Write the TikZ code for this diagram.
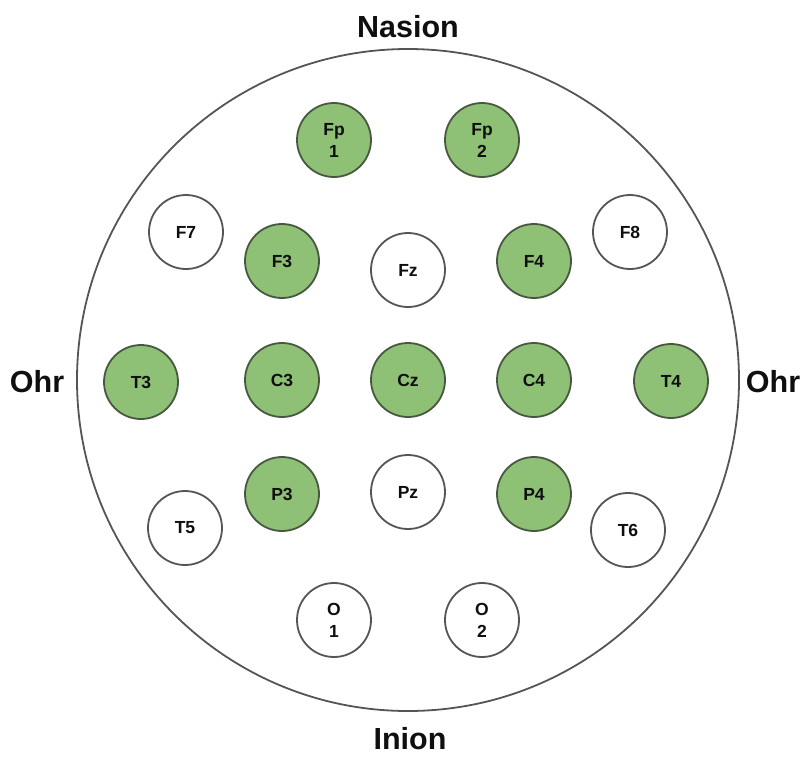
\documentclass[tikz,border=0pt]{standalone}
\usepackage{fontspec}
\setmainfont{Liberation Sans}
\definecolor{elgreen}{RGB}{142,192,118}
\definecolor{elgreenline}{RGB}{72,88,64}
\definecolor{elline}{RGB}{85,85,85}
\definecolor{txt}{RGB}{15,15,15}
\tikzset{
  electrode/.style={circle, draw=elline, line width=1.8pt, minimum size=74pt, inner sep=0pt,
    align=center, font=\fontsize{17.5}{22}\selectfont\bfseries, text=txt},
  active/.style={electrode, fill=elgreen, draw=elgreenline},
  passive/.style={electrode, fill=white},
  headlabel/.style={font=\fontsize{30.5}{34}\selectfont\bfseries, text=txt, inner sep=0pt}
}
\begin{document}
\begin{tikzpicture}[x=1pt,y=-1pt]
\useasboundingbox (0,0) rectangle (801,756);
\node[circle, draw=elline, line width=1.8pt, minimum size=662pt, inner sep=0pt] (head) at (408,380) {};
\node[headlabel] (nasion) at (408,27) {Nasion};
\node[headlabel] (inion) at (410,739) {Inion};
\node[headlabel] (ohrl) at (37,382) {Ohr};
\node[headlabel] (ohrr) at (773,382) {Ohr};
\node[active] (fp1) at (334,140) {Fp\\1};
\node[active] (fp2) at (482,140) {Fp\\2};
\node[passive] (f7) at (186,232) {F7};
\node[active] (f3) at (282,261) {F3};
\node[passive] (fz) at (408,270) {Fz};
\node[active] (f4) at (534,261) {F4};
\node[passive] (f8) at (630,232) {F8};
\node[active] (t3) at (141,382) {T3};
\node[active] (c3) at (282,380) {C3};
\node[active] (cz) at (408,380) {Cz};
\node[active] (c4) at (534,380) {C4};
\node[active] (t4) at (671,381) {T4};
\node[active] (p3) at (282,494) {P3};
\node[passive] (pz) at (408,492) {Pz};
\node[active] (p4) at (534,494) {P4};
\node[passive] (t5) at (185,528) {T5};
\node[passive] (t6) at (628,530) {T6};
\node[passive] (o1) at (334,620) {O\\1};
\node[passive] (o2) at (482,620) {O\\2};
\end{tikzpicture}
\end{document}
